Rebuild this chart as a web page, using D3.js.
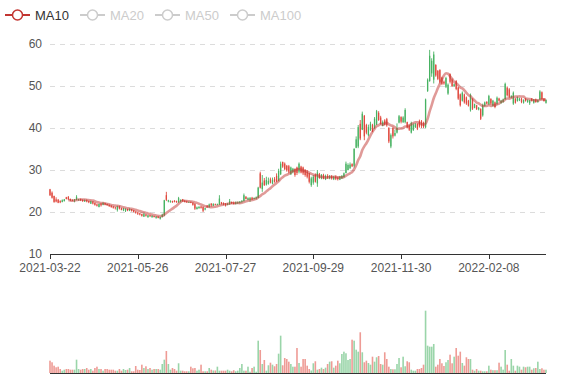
<!DOCTYPE html>
<html><head><meta charset="utf-8">
<script src="https://cdn.jsdelivr.net/npm/d3@7/dist/d3.min.js"></script>
<style>body{margin:0;background:#fff}svg text{font-family:"Liberation Sans",Arial,sans-serif}</style>
</head><body>
<svg id="chart" width="577" height="380"></svg>
<script>
// ---- data ----
const opens = [
25.4,24.6,23.8,23.0,22.9,22.6,22.4,22.6,23.5,23.6, 23.1,22.9,22.6,22.9,22.8,23.1,22.9,22.5,22.8,22.6,
22.0,22.5,22.2,21.8,21.2,22.0,21.7,22.1,21.9,21.7, 21.5,21.3,21.1,20.5,21.3,20.9,20.4,20.3,20.7,20.3,
20.6,20.4,20.1,19.9,19.7,19.5,18.9,19.4,18.8,19.2, 18.8,19.0,18.6,18.9,18.4,18.8,19.2,24.0,22.5,22.4,
22.6,22.7,22.6,22.3,22.5,23.0,22.7,22.5,22.3,22.4, 22.2,21.9,20.7,20.9,21.3,21.2,20.6,21.5,21.2,22.0,
21.5,21.9,21.7,21.8,22.3,22.1,22.0,21.7,21.9,22.4, 22.2,21.9,22.1,22.2,22.4,22.6,23.6,22.9,22.9,23.4,
23.1,23.2,23.4,29.2,25.5,27.5,26.5,26.7,27.8,26.8, 27.8,28.6,27.4,29.0,31.9,31.5,31.0,30.9,29.0,29.5,
30.2,30.6,29.6,30.8,30.6,30.0,29.6,29.2,26.4,27.0, 28.8,26.8,29.0,28.0,28.8,27.8,28.6,28.0,28.5,27.8,
28.4,28.2,27.7,28.0,28.3,29.3,30.0,30.4,31.4,31.0, 35.3,35.6,41.0,39.6,42.9,40.7,38.3,39.5,40.7,40.0,
40.8,43.6,42.5,40.5,41.8,42.1,40.0,35.6,40.0,38.2, 38.9,41.3,42.6,41.4,41.4,41.4,40.6,38.9,39.5,40.2,
41.0,41.7,41.6,41.2,40.2,48.8,51.2,53.0,51.5,55.0, 53.6,53.8,52.0,51.0,49.8,48.2,52.8,51.5,50.0,51.2,
49.6,48.0,46.5,48.0,47.3,46.5,44.2,46.9,44.8,45.4, 44.4,44.5,43.0,45.3,46.2,45.7,46.9,45.3,46.1,45.8,
47.0,45.9,46.2,46.9,49.6,49.2,47.3,45.8,47.0,46.4, 46.6,47.0,46.0,47.0,46.2,45.9,47.0,46.0,46.8,46.2,
46.8,48.5,47.0,46.0];
const closes = [
24.0,23.4,22.4,22.5,22.2,22.3,22.8,23.0,23.1,23.0, 22.8,22.8,23.0,23.6,23.0,22.8,22.6,22.8,22.5,22.3,
22.6,22.0,21.7,21.5,21.9,21.6,22.2,21.8,21.6,21.4, 21.2,21.0,20.9,21.3,20.8,20.5,20.8,20.7,20.4,20.7,
20.3,20.0,19.8,19.6,19.4,19.1,19.5,19.1,19.2,19.0, 19.1,18.8,18.9,18.6,18.8,19.4,22.8,22.9,22.8,22.6,
22.3,22.4,22.3,23.3,22.9,22.6,22.4,22.3,22.4,22.2, 21.7,20.8,21.1,21.2,21.0,20.3,20.9,21.2,21.8,21.6,
21.9,21.7,21.9,23.2,21.9,21.8,21.6,22.0,22.6,22.1, 21.9,22.3,22.3,22.5,22.7,24.0,23.1,23.3,23.4,23.0,
23.3,23.5,25.8,25.8,27.0,26.4,27.6,27.4,27.0,27.6, 27.2,27.3,29.8,31.5,30.8,30.2,29.9,29.6,30.6,30.3,
28.8,29.3,31.5,29.4,29.2,28.8,28.4,27.2,28.0,28.4, 27.2,29.4,28.2,28.9,28.0,28.6,28.2,28.5,28.0,28.3,
27.9,27.8,28.4,28.6,29.2,31.5,31.2,31.3,30.9,35.0, 37.3,40.2,37.5,43.4,38.0,38.9,40.2,41.0,39.2,42.2,
44.0,41.9,41.0,41.4,40.8,40.6,36.8,38.3,38.0,38.8, 40.0,42.8,41.5,42.5,44.3,40.2,39.6,41.2,40.8,40.9,
39.8,40.4,40.5,40.3,46.8,51.5,57.2,56.0,57.5,52.5, 51.7,51.0,50.5,50.6,51.9,50.3,51.0,50.0,50.4,49.3,
47.0,45.4,48.4,46.1,45.8,45.3,47.9,44.6,45.7,44.5, 44.8,42.2,45.5,46.1,45.8,47.6,45.8,46.5,45.0,47.2,
46.5,46.5,46.8,50.5,47.8,47.4,47.6,48.4,46.0,47.2, 47.0,46.2,46.7,46.4,46.6,46.6,46.5,46.8,46.2,46.6,
48.7,46.9,46.4,46.7];
const lows = [
23.8,23.2,22.2,22.3,22.1,22.1,22.3,22.5,23.0,22.9, 22.6,22.6,22.3,22.8,22.7,22.6,22.4,22.4,22.3,22.1,
21.9,21.8,21.5,21.3,21.1,21.3,21.6,21.6,21.5,21.2, 21.0,20.8,20.6,20.1,20.6,20.4,20.2,20.0,20.2,20.2,
20.1,19.9,19.6,19.3,19.2,18.9,18.8,18.9,18.6,18.8, 18.6,18.7,18.4,18.5,18.2,18.7,19.0,22.6,22.3,22.2,
22.2,22.3,22.2,22.2,22.3,22.4,22.3,22.2,22.2,22.1, 21.5,20.5,20.6,20.8,20.8,20.0,20.4,21.0,21.0,21.3,
21.4,21.6,21.6,21.7,21.8,21.6,21.3,21.6,21.7,21.9, 21.8,21.8,21.9,22.0,22.2,22.5,23.0,22.8,22.4,22.9,
23.0,23.0,23.3,25.6,24.8,26.2,26.3,26.5,26.8,26.6, 27.0,27.1,27.3,28.8,30.5,30.0,29.6,29.2,28.8,29.2,
28.4,28.8,29.2,29.2,28.8,28.4,28.0,26.8,26.0,26.5, 27.0,26.0,27.9,27.8,27.8,27.6,27.9,27.8,27.7,27.6,
27.6,27.5,27.6,27.9,28.2,29.2,29.9,30.3,30.7,30.6, 35.2,35.2,37.1,39.5,37.1,38.5,38.0,39.3,39.0,39.8,
40.7,41.7,40.8,40.4,40.6,40.3,36.4,35.2,37.5,38.0, 38.7,41.1,41.1,41.2,41.1,39.9,39.3,38.7,39.3,40.0,
39.5,40.1,40.0,40.0,39.9,48.6,51.0,52.2,50.6,52.2, 51.4,50.6,50.2,50.3,49.5,47.9,50.6,49.8,49.8,49.0,
46.7,45.1,46.3,45.8,45.5,45.1,43.9,44.3,44.7,44.3, 44.2,41.9,42.7,45.1,45.6,45.5,45.5,45.1,44.7,45.5,
46.3,45.8,46.0,46.7,47.5,47.1,47.1,45.5,45.8,46.3, 46.4,45.9,45.8,46.3,46.0,45.5,46.3,45.8,46.0,46.0,
46.7,46.7,46.3,45.8];
const highs = [
25.5,24.9,23.9,23.5,23.1,22.8,23.0,23.1,23.6,23.8, 23.2,23.0,23.1,24.0,23.1,23.2,23.0,23.0,23.0,22.7,
22.7,22.6,22.3,22.0,22.0,22.1,22.3,22.2,22.0,21.8, 21.6,21.4,21.2,21.5,21.5,21.0,21.0,20.9,20.8,20.9,
20.7,20.5,20.2,20.0,19.8,19.6,19.8,19.5,19.3,19.3, 19.2,19.1,19.0,19.0,18.9,19.6,22.9,24.8,22.9,22.8,
22.7,22.8,22.7,23.6,23.0,23.1,22.8,22.7,22.5,22.5, 22.3,22.1,21.3,21.4,21.4,21.3,21.0,21.6,22.0,22.1,
22.1,22.0,22.0,24.0,22.4,22.3,22.1,22.1,23.1,22.5, 22.5,22.5,22.5,22.6,22.8,24.4,23.8,23.5,23.5,23.6,
23.5,23.7,26.0,29.6,28.8,28.1,28.4,28.2,28.2,28.2, 28.3,29.2,30.3,32.0,32.0,31.8,31.2,31.2,30.8,30.5,
30.4,30.8,31.8,31.0,30.8,30.2,30.0,29.3,28.4,28.8, 29.2,30.0,29.3,29.0,29.1,28.9,29.0,28.8,28.8,28.6,
28.7,28.4,28.6,28.8,29.4,32.0,31.6,31.8,31.6,35.2, 38.0,40.7,41.9,43.9,43.1,41.0,40.8,41.5,41.0,42.6,
44.3,44.0,42.9,41.8,42.1,42.4,40.2,38.7,40.3,39.6, 41.1,43.1,42.8,42.8,44.7,41.5,40.8,41.5,41.1,41.2,
41.1,42.0,41.9,41.5,47.0,51.8,58.6,56.6,58.2,55.2, 53.8,54.0,52.2,51.3,52.2,50.6,53.0,51.8,50.6,51.4,
49.8,48.2,48.7,48.2,47.5,46.7,48.2,47.1,45.8,45.5, 45.0,44.7,45.8,46.3,46.4,47.9,47.1,46.7,46.3,47.5,
47.2,46.7,47.0,50.8,49.9,49.5,47.8,48.7,47.1,47.5, 47.2,47.2,46.8,47.1,46.8,46.7,47.1,46.9,47.0,46.8,
49.0,48.7,47.1,46.8];
const volumes = [
308,268,183,143,158,100,58,83,100,100, 83,83,83,333,100,83,100,100,125,83,
100,58,125,158,100,100,58,100,100,83, 83,83,58,58,100,58,100,75,83,125,
43,43,175,83,75,208,125,168,100,125, 83,100,100,100,83,225,333,550,225,83,
125,100,58,243,58,58,43,43,43,158, 118,125,58,83,208,43,43,43,125,83,
63,63,158,58,58,58,58,83,58,43, 70,43,58,125,225,58,58,158,33,125,
158,33,808,575,225,325,58,193,258,208, 168,225,483,933,193,375,350,283,225,158,
158,625,250,158,350,350,183,100,63,243, 293,83,100,133,100,133,225,283,293,133,
183,308,243,475,533,493,325,350,833,808, 583,533,1018,518,268,308,250,208,408,283,
393,425,225,208,518,350,158,100,93,93, 225,375,143,408,168,293,268,83,58,58,
100,100,125,208,1558,683,658,658,725,158, 208,350,243,175,268,325,458,243,408,625,
433,533,250,183,393,350,350,83,58,100, 58,58,43,43,43,183,83,70,70,70,
258,158,83,575,208,58,350,183,58,183, 158,83,158,143,158,158,83,118,125,283,
100,118,83,83];
const priceTicks = [10, 20, 30, 40, 50, 60];
const dateTickLabels = ["2021-03-22","2021-05-26","2021-07-27","2021-09-29","2021-11-30","2022-02-08"];
const dateTickEvery = 43;
const legendNames = ["MA10", "MA20", "MA50", "MA100"];
const legendActive = [true, false, false, false];

// MA10 derived from the closes, as the chart does
const ma10 = closes.map((c, i) => i < 9 ? null : d3.mean(closes.slice(i - 9, i + 1)));

// ---- layout ----
const L = 50, R = 546, T = 44, B = 254, VT = 293, VB = 373;
const upColor = "#47b262", downColor = "#e0493e", maColor = "#c23531";
const N = closes.length;
const idx = d3.range(N);
const svg = d3.select("#chart");

const x = d3.scalePoint().domain(idx).range([L, R]);
const y = d3.scaleLinear().domain([10, 60]).range([B, T]);
const yv = d3.scaleLinear().domain([0, 2000]).range([VB, VT]);
const isUp = i => closes[i] >= opens[i];

// grid lines
svg.append("g").selectAll("line").data(priceTicks.filter(v => v > 10)).join("line")
  .attr("x1", L).attr("x2", R).attr("y1", d => y(d)).attr("y2", d => y(d))
  .attr("stroke", "#dcdcdc").attr("stroke-width", 1).attr("stroke-dasharray", "5,5")
  .attr("shape-rendering", "crispEdges");

// y labels
svg.append("g").selectAll("text").data(priceTicks).join("text")
  .attr("x", L - 8).attr("y", d => y(d)).attr("dy", "0.33em")
  .attr("text-anchor", "end").attr("font-size", 12).attr("fill", "#555")
  .text(d => d);

// candles
const cg = svg.append("g");
cg.selectAll("line").data(idx).join("line")
  .attr("x1", i => x(i)).attr("x2", i => x(i))
  .attr("y1", i => y(highs[i])).attr("y2", i => y(lows[i]))
  .attr("stroke", i => isUp(i) ? upColor : downColor).attr("stroke-width", 0.9);
cg.selectAll("rect").data(idx).join("rect")
  .attr("x", i => x(i) - 0.65).attr("width", 1.3)
  .attr("y", i => y(Math.max(opens[i], closes[i])))
  .attr("height", i => Math.max(0.8, Math.abs(y(opens[i]) - y(closes[i]))))
  .attr("fill", i => isUp(i) ? upColor : downColor);

// MA10 line
const line = d3.line().defined(d => d != null).x((d, i) => x(i)).y(d => y(d)).curve(d3.curveMonotoneX);
svg.append("path").datum(ma10).attr("d", line)
  .attr("fill", "none").attr("stroke", maColor).attr("stroke-width", 2.6).attr("stroke-opacity", 0.5);

// x axis (price)
svg.append("line").attr("x1", L).attr("x2", R).attr("y1", B + 0.5).attr("y2", B + 0.5)
  .attr("stroke", "#333").attr("stroke-width", 1);
const tickIdx = dateTickLabels.map((d, k) => k * dateTickEvery);
svg.append("g").selectAll("line").data(tickIdx).join("line")
  .attr("x1", i => Math.round(x(i)) + 0.5).attr("x2", i => Math.round(x(i)) + 0.5)
  .attr("y1", B).attr("y2", B + 5).attr("stroke", "#333");
svg.append("g").selectAll("text").data(tickIdx).join("text")
  .attr("x", i => x(i)).attr("y", B + 18)
  .attr("text-anchor", "middle").attr("font-size", 12).attr("fill", "#555")
  .text((i, k) => dateTickLabels[k]);

// volume bars
svg.append("g").selectAll("rect").data(idx).join("rect")
  .attr("x", i => x(i) - 0.8).attr("width", 1.6)
  .attr("y", i => yv(volumes[i])).attr("height", i => VB - yv(volumes[i]))
  .attr("fill", i => isUp(i) ? upColor : downColor).attr("fill-opacity", 0.55);
svg.append("line").attr("x1", L).attr("x2", R).attr("y1", VB + 0.5).attr("y2", VB + 0.5)
  .attr("stroke", "#333").attr("stroke-width", 1);

// legend
const legendX = [5, 80, 155, 230];
const lg = svg.append("g").selectAll("g").data(legendNames).join("g")
  .attr("transform", (d, k) => `translate(${legendX[k]},15)`);
lg.append("line").attr("x1", 0).attr("x2", 25).attr("y1", 0).attr("y2", 0)
  .attr("stroke", (d, k) => legendActive[k] ? maColor : "#ccc").attr("stroke-width", 2);
lg.append("circle").attr("cx", 12.5).attr("cy", 0).attr("r", 5)
  .attr("fill", "#fff").attr("stroke", (d, k) => legendActive[k] ? maColor : "#ccc").attr("stroke-width", 1.5);
lg.append("text").attr("x", 30).attr("y", 0).attr("dy", "0.35em")
  .attr("font-size", 13).attr("fill", (d, k) => legendActive[k] ? "#333" : "#ccc")
  .text(d => d);
</script>
</body></html>
